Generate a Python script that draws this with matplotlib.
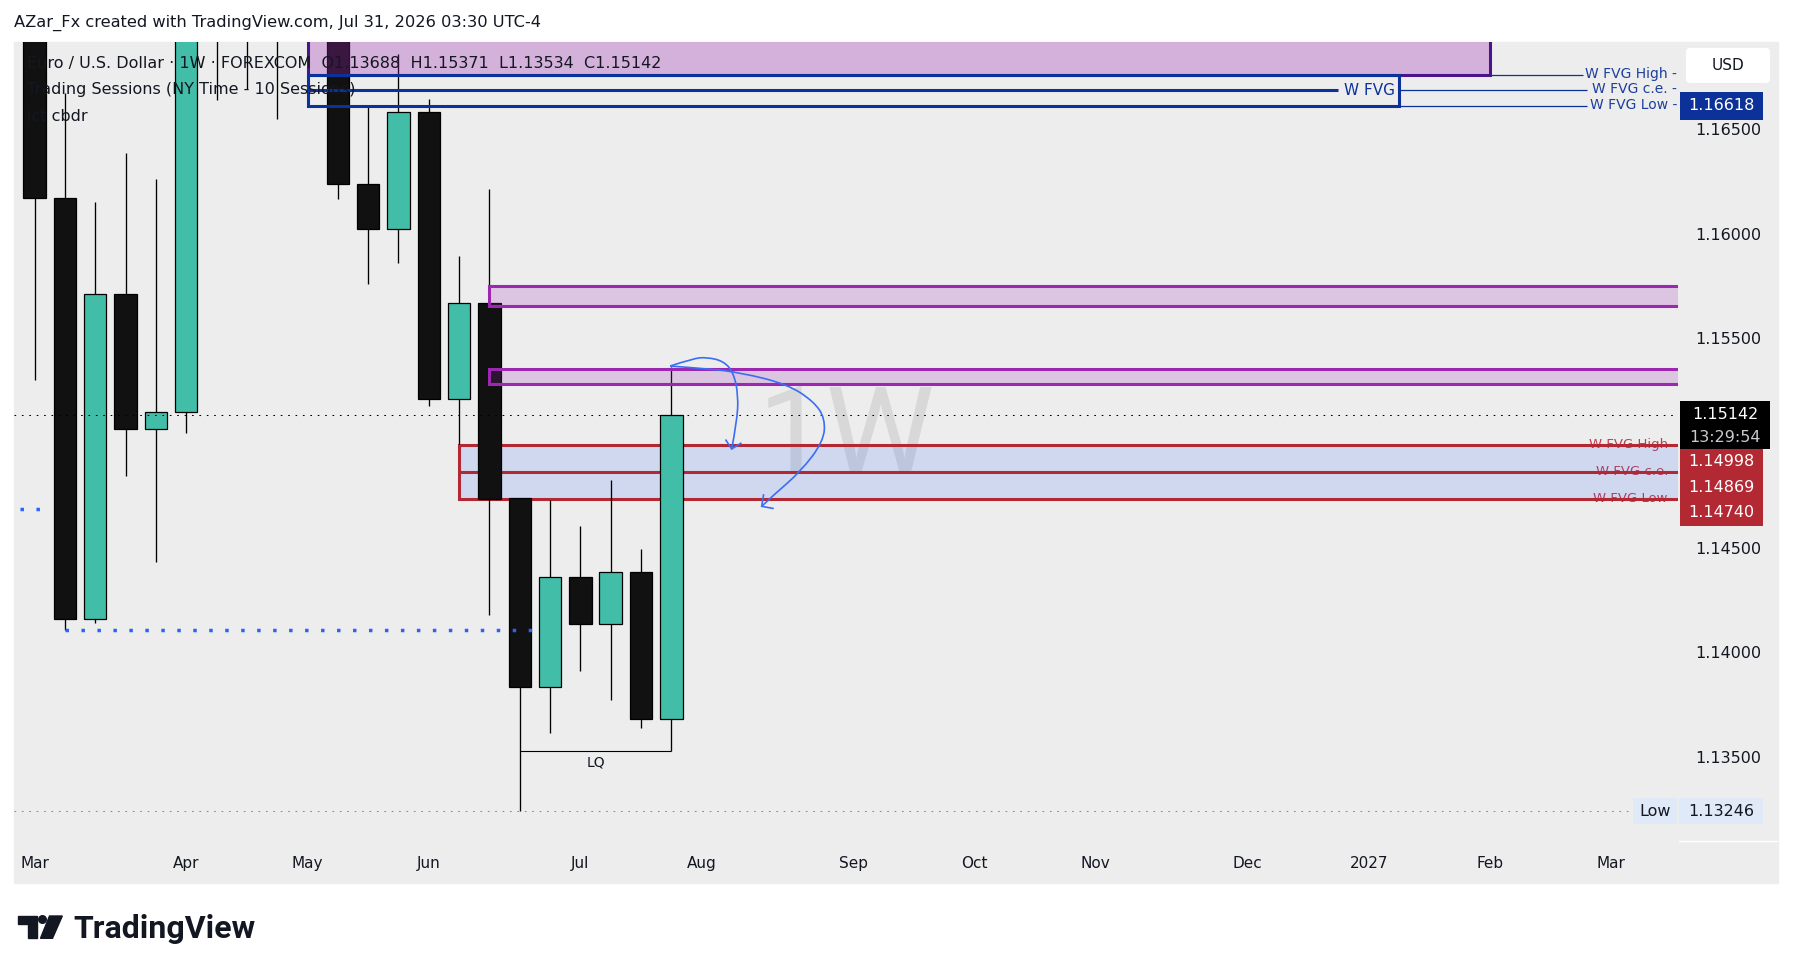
import numpy as np
import pandas as pd
import matplotlib
matplotlib.use('Agg')
import matplotlib.pyplot as plt
from matplotlib.patches import Rectangle, Polygon, Circle, FancyBboxPatch, PathPatch
from matplotlib.path import Path
from matplotlib.transforms import Affine2D, blended_transform_factory

# weekly EUR/USD candles, week 0 = 2026-03-02
first_week = '2026-03-02'
opens  = [1.17420, 1.16178, 1.14164, 1.15720, 1.15074, 1.15155, 1.17180, 1.17450, 1.17200, 1.17300, 1.17280,
          1.16245, 1.16029, 1.16590, 1.15218, 1.15676, 1.14742, 1.13842, 1.14367, 1.14144, 1.14391, 1.13688]
highs  = [1.17600, 1.16681, 1.16159, 1.16394, 1.16269, 1.17350, 1.17700, 1.17750, 1.17600, 1.17650, 1.17450,
          1.16617, 1.16865, 1.16648, 1.15898, 1.16221, 1.14745, 1.14733, 1.14612, 1.14828, 1.14499, 1.15371]
lows   = [1.15308, 1.14113, 1.14146, 1.14851, 1.14439, 1.15052, 1.16645, 1.16700, 1.16553, 1.17000, 1.16172,
          1.15766, 1.15866, 1.15184, 1.15004, 1.14184, 1.13246, 1.13622, 1.13915, 1.13778, 1.13644, 1.13534]
closes = [1.16178, 1.14164, 1.15720, 1.15074, 1.15155, 1.17180, 1.17450, 1.17200, 1.17300, 1.17280, 1.16245,
          1.16029, 1.16590, 1.15217, 1.15676, 1.14739, 1.13842, 1.14367, 1.14144, 1.14391, 1.13688, 1.15142]

price_ticks = [1.135, 1.140, 1.145, 1.155, 1.160, 1.165]
last_price = 1.15142
countdown = '13:29:54'
period_low = 1.13246

# weekly FVG zones: (start week, end week or None = extend right, low, high)
wfvg_top = (9, 45, 1.16618, 1.16766)
wfvg_ce_top = 1.16692
purple_top = (9, 48, 1.16766, 1.17250)
purple_zones = [(15, None, 1.15663, 1.15758), (15, None, 1.15288, 1.15358)]
wfvg_low = (14, None, 1.14740, 1.14998)
wfvg_ce_low = 1.14869

# liquidity line and dotted levels
lq_from, lq_to = 16, 21
dotted_levels = [(-1.0, 0.55, 1.14691), (1, 16.4, 1.14113)]

# hand drawn arrows (week, price)
arrow1_wk = [20.96, 21.73, 22.17, 22.72, 23.05, 23.21, 23.16, 22.99]
arrow1_pr = [1.15374, 1.15411, 1.15416, 1.15398, 1.15343, 1.15234, 1.15106, 1.14978]
arrow1_head = [(22.80, 1.15020), (22.99, 1.14978), (23.29, 1.15005)]
arrow2_wk = [20.96, 22.17, 23.27, 24.81, 25.69, 26.07, 26.02, 25.25, 24.37, 23.98]
arrow2_pr = [1.15374, 1.15362, 1.15343, 1.15288, 1.15206, 1.15124, 1.15014, 1.14868, 1.14758, 1.14704]
arrow2_head = [(24.04, 1.14758), (23.98, 1.14704), (24.35, 1.14694)]

n_axis_weeks = 56
bull, bear = '#42bda8', '#111111'
txt = '#131722'
bg = '#ededed'
purple = '#9c27b0'
dark_purple = '#4a148c'
navy = '#0c3299'
red = '#b22833'
tv_blue = '#2962ff'

W, H = 1793, 973
fig = plt.figure(figsize=(W / 100, H / 100), dpi=100)
fig.patch.set_facecolor('white')
pix = Affine2D().scale(1, -1).translate(0, H).scale(1 / W, 1 / H) + fig.transFigure


def fbox(x0, y0, x1, y1):
    return [x0 / W, 1 - y1 / H, (x1 - x0) / W, (y1 - y0) / H]


fig.patches.append(Rectangle((14, 42), 1764, 841, transform=pix, color=bg, zorder=-10))

ax = fig.add_axes(fbox(14, 42, 1678, 840))
sc = fig.add_axes(fbox(1678, 42, 1778, 840), sharey=ax)
for a in (ax, sc):
    a.set_facecolor(bg)
    for s in a.spines.values():
        s.set_visible(False)

ymin, ymax = 1.131097, 1.169224
ax.set_xlim(-0.68, 54.2)
ax.set_ylim(ymin, ymax)
k = 798 / (ymax - ymin)  # pixels per price unit

# candles
x = np.arange(len(opens))
o, h, l, c = map(np.array, (opens, highs, lows, closes))
cols = np.where(c >= o, bull, bear)
ax.vlines(x, l, h, color='black', lw=0.95, zorder=3)
ax.bar(x, c - o, bottom=o, width=0.74, color=cols, edgecolor='black', linewidth=0.9, zorder=3.1)

x_right = ax.get_xlim()[1] + 1


def zone(z, face, alpha, edge, zo):
    x0, x1, lo, hi = z
    x1 = x_right if x1 is None else x1
    ax.add_patch(Rectangle((x0, lo), x1 - x0, hi - lo, facecolor=face, alpha=alpha, edgecolor='none', zorder=zo))
    ax.add_patch(Rectangle((x0, lo), x1 - x0, hi - lo, facecolor='none', edgecolor=edge, lw=2.2, zorder=zo))


bt = blended_transform_factory(ax.transAxes, ax.transData)

# lower weekly FVG (under the candles)
zone(wfvg_low, tv_blue, 0.15, red, 2)
ax.hlines(wfvg_ce_low, wfvg_low[0], x_right, color=red, lw=2.2, zorder=2)
for lev, name in [(wfvg_low[3], 'W FVG High'), (wfvg_ce_low, 'W FVG c.e.'), (wfvg_low[2], 'W FVG Low')]:
    ax.text(1 - 10 / 1664, lev, name, transform=bt, ha='right', va='center', fontsize=9.5,
            color='#c23b48', zorder=1.9)

# purple zones above the candles
zone(purple_top, purple, 0.3, dark_purple, 4)
for z in purple_zones:
    zone(z, purple, 0.2, purple, 4)

# upper weekly FVG box
x0, x1, lo, hi = wfvg_top
ax.add_patch(Rectangle((x0, lo), x1 - x0, hi - lo, facecolor='none', edgecolor=navy, lw=2.2, zorder=4.2))
ax.hlines(wfvg_ce_top, x0, 43.0, color=navy, lw=2.2, zorder=4.2)
ax.text(44.85, wfvg_ce_top, 'W FVG', ha='right', va='center', fontsize=11, color=navy, zorder=4.3)
ax.hlines(hi, purple_top[1], 51.07, color=navy, lw=0.9, zorder=4.2)
ax.hlines([wfvg_ce_top, lo], x1, 51.2, color=navy, lw=0.9, zorder=4.2)
for lev, name in [(hi, 'W FVG High -'), (wfvg_ce_top, 'W FVG c.e. -'), (lo, 'W FVG Low -')]:
    ax.text(1 - 1 / 1664, lev + 1 / k, name, transform=bt, ha='right', va='center', fontsize=10,
            color='#1c3f9e', zorder=4.3)

# levels
ax.axhline(last_price, color='black', lw=0.75, ls=(0, (1.6, 5.5)), zorder=3.5)
ax.axhline(period_low, color='#8a8a8a', lw=0.75, ls=(0, (1.6, 5.5)), zorder=1.5)
for a0, a1, lev in dotted_levels:
    ax.hlines(lev, a0, a1, color=tv_blue, lw=2.5, ls=(0, (1, 3.6)), zorder=3.6)

# LQ marker
ax.hlines(lows[lq_to], lq_from, lq_to, color='black', lw=0.8, zorder=3.2)
ax.annotate('LQ', ((lq_from + lq_to) / 2, lows[lq_to]), xytext=(0, -3), textcoords='offset points',
            ha='center', va='top', fontsize=10, color=txt, zorder=3.2)


def smooth(px, py):
    pts = np.column_stack([px, py])
    verts, codes = [pts[0]], [Path.MOVETO]
    for i in range(1, len(pts) - 1):
        end = (pts[i] + pts[i + 1]) / 2 if i < len(pts) - 2 else pts[i + 1]
        verts += [pts[i], end]
        codes += [Path.CURVE3, Path.CURVE3]
    return Path(verts, codes)


arrow_col = '#3b6ef5'
for wk, pr, head in [(arrow1_wk, arrow1_pr, arrow1_head), (arrow2_wk, arrow2_pr, arrow2_head)]:
    ax.add_patch(PathPatch(smooth(wk, pr), facecolor='none', edgecolor=arrow_col, lw=1.2, zorder=5))
    hx, hy = zip(*head)
    ax.plot(hx, hy, color=arrow_col, lw=1.2, zorder=5, solid_joinstyle='miter')

# watermark
ax.text(0.5, 0.5, '1W', transform=ax.transAxes, ha='center', va='center', fontsize=88,
        family='Roboto', color='#9a9a9a', alpha=0.25, zorder=1)

# time axis
weeks = pd.date_range(first_week, periods=n_axis_weeks, freq='7D')
tick_pos, tick_lab = [], []
for i, d in enumerate(weeks):
    if i == 0 or d.month != weeks[i - 1].month:
        tick_pos.append(i)
        tick_lab.append(str(d.year) if d.month == 1 else d.strftime('%b'))
ax.set_xticks(tick_pos)
ax.set_xticklabels(tick_lab)
ax.tick_params(axis='x', length=0, pad=11.5, labelsize=11, labelcolor=txt)
ax.tick_params(axis='y', length=0, labelleft=False)
ax.set_yticks([])

# price scale
sc.set_xlim(0, 100)
sc.set_xticks([])
sc.tick_params(axis='y', length=0, labelleft=False)
sc.set_yticks([])
for p in price_ticks:
    sc.text(17, p, f'{p:.5f}', ha='left', va='center', fontsize=11.5, color=txt)


def plabel(y_top, y_bot, text_y, label, face, fg, x1=85, x0=2, cx=43.5):
    sc.add_patch(Rectangle((x0, y_bot), x1 - x0, y_top - y_bot, facecolor=face, edgecolor='none', zorder=3,
                           clip_on=False))
    sc.text(cx, text_y, label, ha='center', va='center', fontsize=11.5, color=fg, zorder=4, clip_on=False)


lo_top = wfvg_top[2]
plabel(lo_top + 14 / k, lo_top - 14 / k, lo_top, f'{lo_top:.5f}', navy, 'white')
plabel(last_price + 13.2 / k, last_price - 34.1 / k, last_price, f'{last_price:.5f}', 'black', 'white', x1=92, cx=47)
sc.text(47, last_price - 23 / k, countdown, ha='center', va='center', fontsize=11.5, color='#c8cad0', zorder=4)
stack_top = last_price - 34.1 / k
for i, lev in enumerate([wfvg_low[3], wfvg_ce_low, wfvg_low[2]]):
    t = stack_top - 25.7 * i / k
    plabel(t, t - 25.7 / k, t - 12.85 / k, f'{lev:.5f}', red, 'white')
plabel(period_low + 13 / k, period_low - 13 / k, period_low, f'{period_low:.5f}', '#dfe9f8', txt, x0=1)
plabel(period_low + 13 / k, period_low - 13 / k, period_low, 'Low', '#dfe9f8', txt, x0=-45, x1=-1, cx=-23)

fig.patches.append(FancyBboxPatch((1686, 48), 84, 35, boxstyle='round,pad=0,rounding_size=4', transform=pix,
                                  facecolor='white', edgecolor='none', zorder=5))
fig.text(1728, 65.5, 'USD', transform=pix, ha='center', va='center', fontsize=11, color=txt, zorder=6)
fig.lines.append(plt.Line2D([1679, 1777], [840.7, 840.7], transform=pix, color='white', lw=1, zorder=5))

# header texts
fig.text(14, 23, 'AZar_Fx created with TradingView.com, Jul 31, 2026 03:30 UTC-4', transform=pix,
         ha='left', va='center', fontsize=11.7, color=txt)
legend_lines = ['Euro / U.S. Dollar · 1W · FOREXCOM  O1.13688  H1.15371  L1.13534  C1.15142',
                'Trading Sessions (NY Time - 10 Sessions)', 'ict cbdr']
for j, s in enumerate(legend_lines):
    fig.text(27, 63.7 + 26.2 * j, s, transform=pix, ha='left', va='center', fontsize=11.5, color=txt, zorder=6)

# TradingView logo
fig.patches.append(Polygon([(18.3, 916), (37.3, 916), (37.3, 938.3), (28.3, 938.3), (28.3, 924), (18.3, 924)],
                           closed=True, transform=pix, color='#131722', zorder=5))
fig.patches.append(Circle((42.5, 919.5), 3.8, transform=pix, color='#131722', zorder=5))
fig.patches.append(Polygon([(49.5, 916), (62.3, 916), (52.5, 938.3), (40.5, 938.3)],
                           closed=True, transform=pix, color='#131722', zorder=5))
fig.text(73, 938, 'TradingView', transform=pix, ha='left', va='baseline', fontsize=23,
         family='Roboto', weight='bold', color='#131722')

fig.savefig('out.png', dpi=100)
